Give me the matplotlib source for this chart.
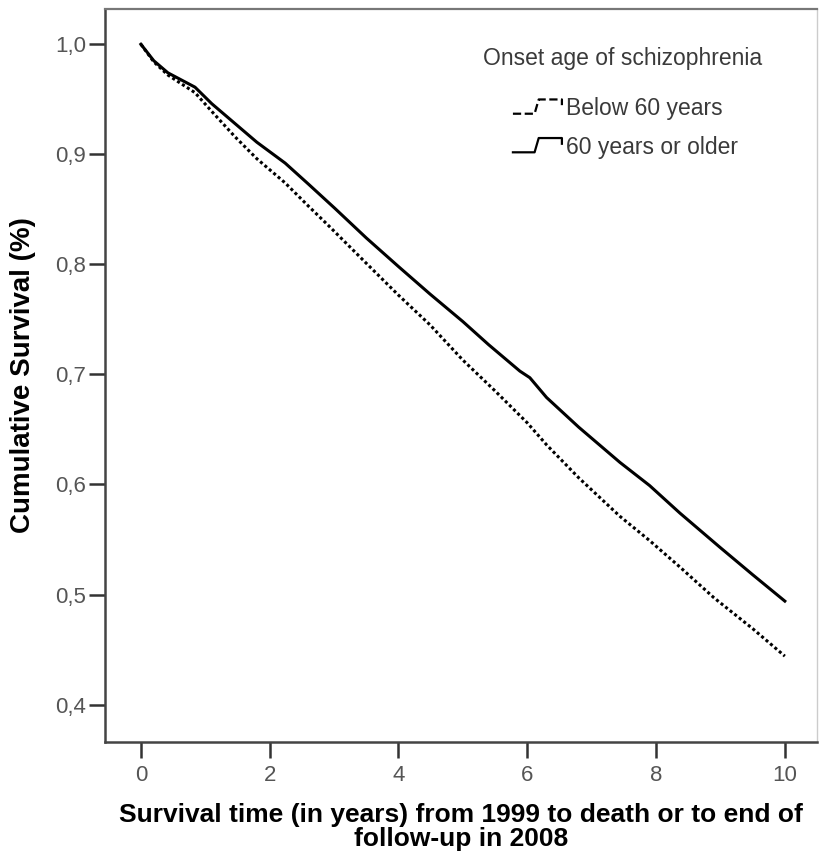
import matplotlib.pyplot as plt
from matplotlib.lines import Line2D
from matplotlib.legend_handler import HandlerBase

plt.rcParams['font.family'] = ['Liberation Sans', 'DejaVu Sans']

# Kaplan-Meier estimates per group (years, cumulative survival)
years_old = [0, 0.2, 0.42, 0.84, 1.1, 1.46, 1.8, 2.24, 2.6, 3.01, 3.5, 4.0, 4.49, 5.0, 5.4, 5.885, 6.04, 6.3, 6.8, 7.44, 7.9, 8.37, 8.99, 9.5, 10.0]
surv_old = [1.0, 0.985, 0.974, 0.961, 0.946, 0.928, 0.911, 0.892, 0.873, 0.851, 0.824, 0.798, 0.773, 0.748, 0.727, 0.703, 0.697, 0.679, 0.652, 0.620, 0.599, 0.574, 0.543, 0.518, 0.494]

years_young = [0, 0.2, 0.42, 0.84, 1.1, 1.46, 1.8, 2.24, 2.6, 2.9, 3.5, 4.0, 4.49, 5.0, 5.5, 6.0, 6.3, 6.8, 7.44, 7.9, 8.37, 8.9, 9.5, 10.0]
surv_young = [1.0, 0.984, 0.972, 0.956, 0.939, 0.916, 0.896, 0.874, 0.853, 0.836, 0.801, 0.772, 0.745, 0.713, 0.685, 0.656, 0.636, 0.606, 0.571, 0.549, 0.525, 0.497, 0.469, 0.444]

group_labels = ['Below 60 years', '60 years or older']
y_ticks = [0.4, 0.5, 0.6, 0.7, 0.8, 0.9, 1.0]
y_tick_labels = ['0,4', '0,5', '0,6', '0,7', '0,8', '0,9', '1,0']
x_ticks = [0, 2, 4, 6, 8, 10]

text_grey = '#3a3a3a'


class StepHandler(HandlerBase):
    # little step-shaped sample, like the SPSS survival legend
    def create_artists(self, legend, orig_handle, xdescent, ydescent,
                       width, height, fontsize, trans):
        x0 = -xdescent
        xs = [x0, x0 + 0.42 * width, x0 + 0.5 * width, x0 + 0.95 * width, x0 + 0.95 * width]
        lo, hi = -ydescent + 0.15 * height, -ydescent + 0.9 * height
        ys = [lo, lo, hi, hi, -ydescent + 0.6 * height]
        line = Line2D(xs, ys, color=orig_handle.get_color(),
                      lw=orig_handle.get_linewidth(),
                      linestyle=orig_handle.get_linestyle(), transform=trans)
        return [line]


fig = plt.figure(figsize=(8.19, 8.67), dpi=100)
ax = fig.add_axes([0.128, 0.1442, 0.8696, 0.8454])

ax.plot(years_young, surv_young, color='black', lw=2.2, linestyle=(0, (1, 0.9)))
ax.plot(years_old, surv_old, color='black', lw=2.2)

ax.set_xlim(-0.56, 10.5)
ax.set_ylim(0.366, 1.032)
ax.set_xticks(x_ticks)
ax.set_yticks(y_ticks)
ax.set_yticklabels(y_tick_labels)
ax.tick_params(axis='both', direction='out', length=11.5, width=1.8, color='#333333',
               labelsize=16, labelcolor='#555555')
ax.tick_params(axis='x', pad=5)
ax.tick_params(axis='y', pad=2)

for side in ['left', 'bottom']:
    ax.spines[side].set_color('#444444')
    ax.spines[side].set_linewidth(1.8)
ax.spines['top'].set_color('#777777')
ax.spines['top'].set_linewidth(1.6)
ax.spines['right'].set_color('#cccccc')
ax.spines['right'].set_linewidth(1.0)

ax.set_ylabel('Cumulative Survival (%)', fontsize=20, fontweight='bold', labelpad=14)
ax.set_xlabel('Survival time (in years) from 1999 to death or to end of\nfollow-up in 2008',
              fontsize=19, fontweight='bold', labelpad=12, linespacing=1.0)

ax.text(0.531, 0.933, 'Onset age of schizophrenia', transform=ax.transAxes,
        fontsize=16.5, color=text_grey, ha='left', va='center')

handles = [Line2D([], [], color='black', lw=1.6, linestyle=(0, (1.2, 0.9))),
           Line2D([], [], color='black', lw=1.6)]
leg = ax.legend(handles, group_labels, loc='upper left', bbox_to_anchor=(0.573, 0.880),
                frameon=False, fontsize=16.5, labelspacing=0.68, borderpad=0,
                borderaxespad=0, handlelength=2.25, handleheight=0.9, handletextpad=0.05,
                handler_map={Line2D: StepHandler()})
for t in leg.get_texts():
    t.set_color(text_grey)

fig.savefig('out.png', dpi=100)
